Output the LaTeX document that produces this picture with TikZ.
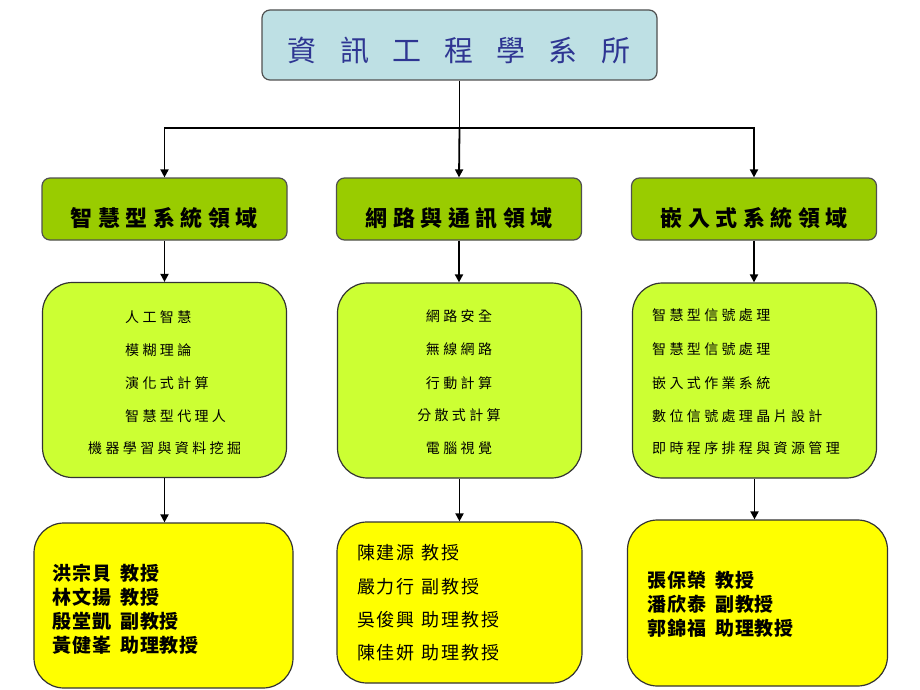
\documentclass[tikz,border=0pt]{standalone}
\usepackage{fontspec}
\usetikzlibrary{arrows.meta}
\newfontfamily\cjk{Noto Sans CJK TC}
\definecolor{topfill}{HTML}{BEE0E4}
\definecolor{topblue}{HTML}{2E3592}
\definecolor{lvtwo}{HTML}{99CC00}
\definecolor{lvthree}{HTML}{CCFF33}
\definecolor{lvfour}{HTML}{FFFF00}
\definecolor{edge}{HTML}{505050}
\begin{document}
\begin{tikzpicture}[x=1pt,y=-1pt,
  box/.style={draw=edge, line width=1.2pt, inner sep=0pt},
  topbox/.style={box, fill=topfill, rounded corners=8pt, minimum width=395pt, minimum height=70pt},
  areabox/.style={box, fill=lvtwo, rounded corners=8pt, minimum width=245pt, minimum height=62pt},
  areatext/.style={inner sep=0pt, font=\cjk\bfseries\fontsize{22}{24}\selectfont\addfontfeatures{LetterSpace=25}},
  topicbox/.style={box, draw=black!80, fill=lvthree, rounded corners=30pt, minimum width=244pt, minimum height=195pt},
  staffbox/.style={box, draw=black!80, fill=lvfour, rounded corners=30pt},
  topic/.style={inner sep=0pt, font=\cjk\fontsize{14}{16}\selectfont\addfontfeatures{LetterSpace=24}},
  staffb/.style={inner sep=0pt, anchor=west, font=\cjk\bfseries\fontsize{19}{21}\selectfont\addfontfeatures{LetterSpace=5}},
  staffn/.style={inner sep=0pt, anchor=west, font=\cjk\fontsize{18}{20}\selectfont\addfontfeatures{LetterSpace=10}},
  arr/.style={line width=1.8pt, -{Triangle[length=8pt,width=8pt]}},
  ln/.style={line width=1.8pt}]
\useasboundingbox (0,0) rectangle (920,690);
\fill[white] (0,0) rectangle (920,690);

% top
\node[topbox] (top) at (459.5,45) {};
\node[inner sep=0pt, text=topblue, font=\cjk\fontsize{29}{32}\selectfont\addfontfeatures{LetterSpace=80}] (toptext) at (459,50) {資訊工程學系所};

% level 2
\node[areabox] (a2) at (164.5,209) {};
\node[areabox] (b2) at (459,209) {};
\node[areabox] (c2) at (754,209) {};
\node[areatext] (a2t) at (164,218) {智慧型系統領域};
\node[areatext] (b2t) at (459,218) {網路與通訊領域};
\node[areatext] (c2t) at (754,218) {嵌入式系統領域};

% level 3
\node[topicbox] (a3) at (164.5,380) {};
\node[topicbox] (b3) at (459.5,380.5) {};
\node[topicbox] (c3) at (754.5,380.5) {};

\node[topic, anchor=west] (a31) at (125,317) {人工智慧};
\node[topic, anchor=west] (a32) at (125,350) {模糊理論};
\node[topic, anchor=west] (a33) at (125,383) {演化式計算};
\node[topic, anchor=west] (a34) at (125,416) {智慧型代理人};
\node[topic, anchor=west] (a35) at (88,448) {機器學習與資料挖掘};

\node[topic] (b31) at (459,316) {網路安全};
\node[topic] (b32) at (459,349) {無線網路};
\node[topic] (b33) at (459,383) {行動計算};
\node[topic] (b34) at (459,415) {分散式計算};
\node[topic] (b35) at (459,448) {電腦視覺};

\node[topic, anchor=west] (c31) at (652,315) {智慧型信號處理};
\node[topic, anchor=west] (c32) at (652,349) {智慧型信號處理};
\node[topic, anchor=west] (c33) at (652,383) {嵌入式作業系統};
\node[topic, anchor=west] (c34) at (652,416) {數位信號處理晶片設計};
\node[topic, anchor=west] (c35) at (652,448) {即時程序排程與資源管理};

% level 4
\node[staffbox, minimum width=259pt, minimum height=165pt] (a4) at (163.5,605.5) {};
\node[staffbox, minimum width=245pt, minimum height=161pt] (b4) at (459.5,602.5) {};
\node[staffbox, minimum width=260pt, minimum height=166pt] (c4) at (757.5,603) {};

\node[staffb] (a41) at (52,573) {洪宗貝\hspace{9pt}教授};
\node[staffb] (a42) at (52,597) {林文揚\hspace{9pt}教授};
\node[staffb] (a43) at (52,621) {殷堂凱\hspace{9pt}副教授};
\node[staffb] (a44) at (52,645) {黃健峯\hspace{9pt}助理教授};

\node[staffn] (b41) at (357,553) {陳建源\hspace{7pt}教授};
\node[staffn] (b42) at (357,587) {嚴力行\hspace{7pt}副教授};
\node[staffn] (b43) at (357,620) {吳俊興\hspace{7pt}助理教授};
\node[staffn] (b44) at (357,653) {陳佳妍\hspace{7pt}助理教授};

\node[staffb] (c41) at (647,580) {張保榮\hspace{9pt}教授};
\node[staffb] (c42) at (647,604) {潘欣泰\hspace{9pt}副教授};
\node[staffb] (c43) at (647,628) {郭錦福\hspace{9pt}助理教授};

% connectors
\coordinate (j) at (459.5,128);
\draw[ln] (top.south) -- (j);
\draw[arr] (j) -| (a2.north);
\draw[arr] (j) -- (b2.north);
\draw[arr] (j) -| (c2.north);
\draw[arr] (a2.south) -- (a2.south |- a3.north);
\draw[arr] (b2.south) -- (b2.south |- b3.north);
\draw[arr] (c2.south) -- (c2.south |- c3.north);
\draw[arr] (a3.south) -- (a3.south |- a4.north);
\draw[arr] (b3.south) -- (b3.south |- b4.north);
\draw[arr] (c3.south) -- (c3.south |- c4.north);
\end{tikzpicture}
\end{document}
